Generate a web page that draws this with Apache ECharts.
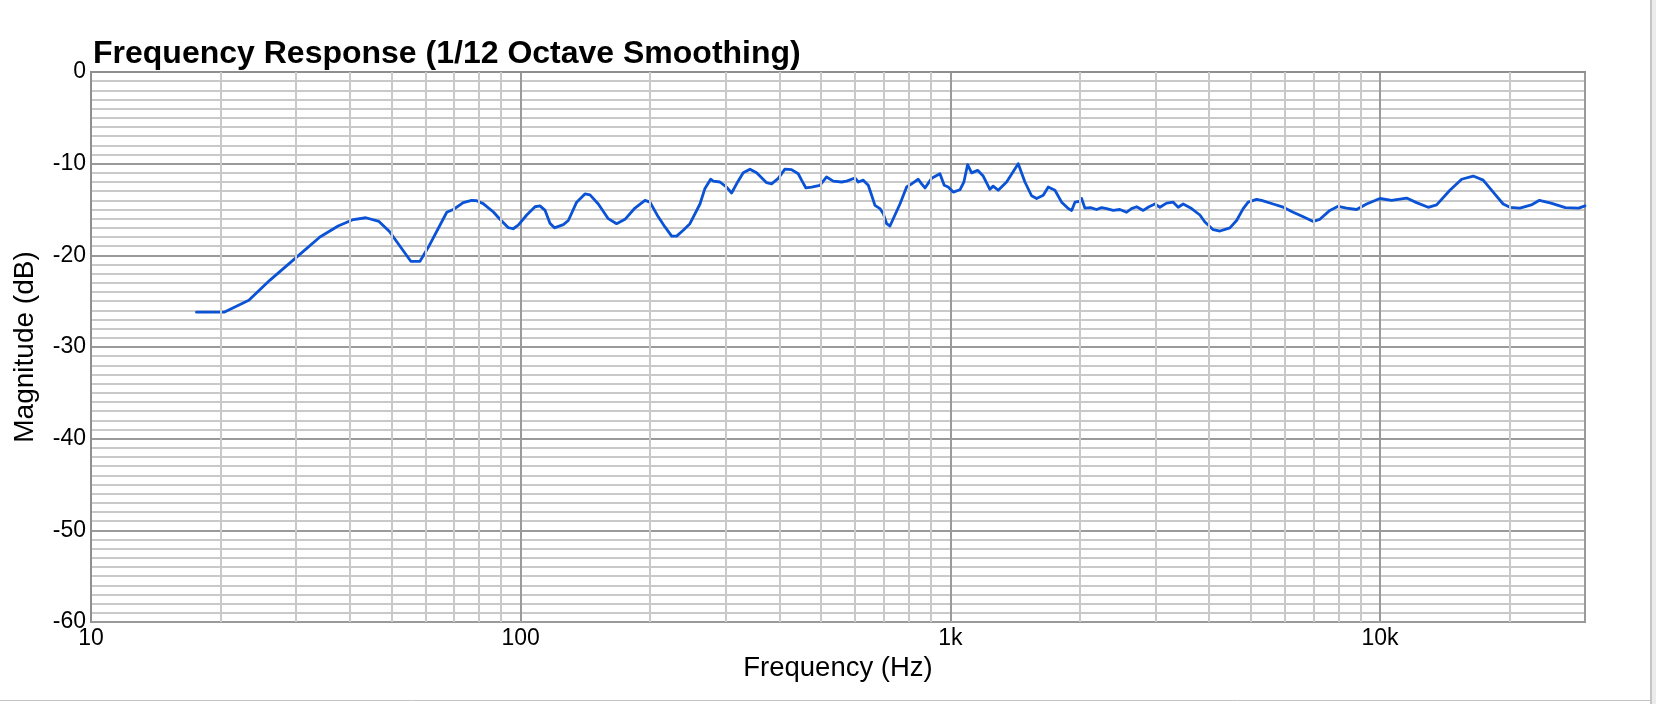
<!DOCTYPE html>
<html>
<head>
<meta charset="utf-8">
<script src="https://cdn.jsdelivr.net/npm/echarts@6/dist/echarts.min.js"></script>
<style>
html,body{margin:0;padding:0;background:#fff;}
#chart{width:1656px;height:704px;}
</style>
</head>
<body>
<div id="chart"></div>
<script>
const titleText = 'Frequency Response (1/12 Octave Smoothing)';
const xName = 'Frequency (Hz)';
const yName = 'Magnitude (dB)';

const freqHz = [
  17.6, 20.4, 23.3, 26.1, 30.1, 34.1, 37.6, 40.8, 43.6, 46.8, 49.5, 55.5, 58.3, 61, 67.3, 69.7, 73.5, 76.9, 79, 81.8, 86.4,
  89.5, 93.6, 96.1, 98.7, 103.3, 108, 110.9, 114, 117, 119.8, 125.7, 129.1, 135, 141.1, 145, 151.6, 159.9, 167.2, 174.9,
  184.5, 194.7, 200, 209, 216.7, 224.6, 230.7, 239, 247.7, 261.4, 268.5, 276.8, 280.8, 290.9, 301.5, 309.7, 318.1, 329.6,
  341.7, 354.1, 373.6, 383.7, 397.7, 412, 427, 442.6, 450.6, 461.2, 475.5, 497.1, 515.2, 534, 558.5, 573.5, 599.7, 610.5,
  627.1, 644.1, 655.9, 667.7, 685.8, 698.1, 710.9, 723.6, 743.2, 763.4, 791.2, 812.6, 842, 857.3, 873, 904.6, 945.8, 967.8,
  988.8, 1015.7, 1052.7, 1075.5, 1097, 1120.8, 1157.3, 1192.7, 1236, 1258, 1292.5, 1351.8, 1438.8, 1491.3, 1545.5, 1588,
  1645.6, 1690, 1751.6, 1815.6, 1881.5, 1916, 1950, 2002, 2020.6, 2056.8, 2120, 2190, 2250, 2311, 2394, 2480, 2572, 2640,
  2714, 2812, 2900, 2994, 3074, 3187, 3302, 3391, 3483, 3643, 3809, 3913, 4091, 4241, 4474, 4637, 4804, 4934, 5160, 5300,
  5641, 5953, 6280, 6627, 6991, 7245, 7643, 7992, 8360, 8821, 9306, 9994, 10640, 11530, 12165, 12947, 13544, 14543, 15489,
  16477, 17384, 18342, 19350, 20062, 21160, 22500, 23500, 25000, 27000, 29000, 30000
];

const magnitudeDb = [
  -26.2, -26.2, -24.9, -22.7, -20.2, -18.0, -16.8, -16.1, -15.9, -16.3, -17.4, -20.65, -20.65, -19.1, -15.3, -15.0, -14.25, -14.0, -14.04, -14.36, -15.27,
  -16.07, -16.98, -17.1, -16.7, -15.6, -14.7, -14.6, -15.1, -16.5, -17.0, -16.65, -16.2, -14.2, -13.3, -13.4, -14.4, -16.0, -16.55, -16.07,
  -14.84, -14.0, -14.2, -15.8, -16.9, -17.9, -17.9, -17.27, -16.55, -14.4, -12.7, -11.7, -11.9, -12.0, -12.55, -13.2, -12.2, -11.0,
  -10.6, -11.0, -12.07, -12.2, -11.6, -10.6, -10.65, -11.1, -11.8, -12.65, -12.55, -12.36, -11.45, -11.9, -12.0, -11.9, -11.56, -12.0,
  -11.8, -12.36, -13.45, -14.55, -14.9, -15.45, -16.55, -16.8, -15.6, -14.4, -12.55, -12.2, -11.7, -12.2, -12.65, -11.6, -11.1, -12.36,
  -12.55, -13.1, -12.85, -12.0, -10.1, -11.0, -10.73, -11.35, -12.8, -12.45, -12.9, -12.0, -10.0, -12.0, -13.5, -13.8,
  -13.45, -12.55, -12.9, -14.2, -14.9, -15.1, -14.2, -14.1, -13.8, -14.85, -14.8, -15.0, -14.8, -14.9, -15.1, -15.0, -15.3, -14.9,
  -14.7, -15.1, -14.7, -14.4, -14.75, -14.3, -14.2, -14.75, -14.4, -14.9, -15.6, -16.36, -17.2, -17.35, -17.0, -16.2, -14.9, -14.2, -13.9, -14.0,
  -14.4, -14.75, -15.3, -15.8, -16.3, -16.07, -15.1, -14.65, -14.85, -15.0, -14.4, -13.8, -14.0, -13.75, -14.25, -14.76, -14.5, -12.9, -11.7,
  -11.35, -11.8, -13.1, -14.4, -14.76, -14.85, -14.5, -14.0, -14.3, -14.8, -14.85, -14.6
];

const xMajorTicks = [10, 100, 1000, 10000];
const xMinorGrid = [20, 30, 40, 50, 60, 70, 80, 90, 200, 300, 400, 500, 600, 700, 800, 900,
  2000, 3000, 4000, 5000, 6000, 7000, 8000, 9000, 20000];

const FONT = '"Liberation Sans", Arial, Helvetica, sans-serif';
const chart = echarts.init(document.getElementById('chart'), null, {renderer: 'canvas'});

const seriesData = freqHz.map((f, i) => [f, magnitudeDb[i]]);

chart.setOption({
  animation: false,
  backgroundColor: '#ffffff',
  title: {
    text: titleText,
    left: 88,
    top: 33,
    textStyle: {fontFamily: FONT, fontSize: 32, fontWeight: 'bold', color: '#000'}
  },
  grid: {left: 91, top: 72, right: 71, bottom: 82, show: true, borderColor: '#8f8f8f', borderWidth: 2, containLabel: false},
  xAxis: {
    type: 'log',
    logBase: 10,
    min: 10,
    max: 30000,
    splitNumber: 4,
    name: xName,
    nameLocation: 'middle',
    nameGap: 31,
    nameTextStyle: {fontFamily: FONT, fontSize: 27.5, color: '#000'},
    axisLine: {show: true, lineStyle: {color: '#8f8f8f', width: 2}},
    axisTick: {show: false},
    axisLabel: {
      fontFamily: FONT, fontSize: 23, color: '#000', margin: 5, showMaxLabel: false,
      formatter: function (v) {
        if (xMajorTicks.indexOf(Math.round(v)) < 0) return '';
        return v >= 1000 ? (v / 1000) + 'k' : String(v);
      }
    },
    splitLine: {show: true, lineStyle: {color: '#9a9a9a', width: 2}}
  },
  yAxis: {
    type: 'value',
    min: -60,
    max: 0,
    interval: 10,
    name: yName,
    nameLocation: 'middle',
    nameGap: 52,
    nameTextStyle: {fontFamily: FONT, fontSize: 28, color: '#000'},
    axisLine: {show: true, lineStyle: {color: '#8f8f8f', width: 2}},
    axisTick: {show: false},
    axisLabel: {fontFamily: FONT, fontSize: 23, color: '#000', margin: 5},
    splitLine: {show: true, lineStyle: {color: '#9a9a9a', width: 2}},
    minorTick: {show: false, splitNumber: 10},
    minorSplitLine: {show: true, lineStyle: {color: '#c9c9c9', width: 2}}
  },
  series: [
    {
      type: 'line',
      z: 1,
      data: [],
      silent: true,
      markLine: {
        silent: true,
        symbol: ['none', 'none'],
        label: {show: false},
        animation: false,
        lineStyle: {color: '#c9c9c9', width: 2, type: 'solid'},
        data: xMinorGrid.map(v => ({xAxis: v}))
      }
    },
    {
      type: 'line',
      z: 3,
      data: seriesData,
      showSymbol: false,
      symbol: 'none',
      smooth: false,
      lineStyle: {color: '#0a52d6', width: 2.8, join: 'round', cap: 'round'},
      itemStyle: {color: '#0a52d6'}
    }
  ],
  graphic: [
    {type: 'rect', shape: {x: 1651, y: 0, width: 5, height: 704}, style: {fill: '#ececec'}, silent: true},
    {type: 'line', shape: {x1: 1651, y1: 0, x2: 1651, y2: 704}, style: {stroke: '#c4c4c4', lineWidth: 2}, silent: true},
    {type: 'line', shape: {x1: 0, y1: 700.5, x2: 1650, y2: 700.5}, style: {stroke: '#c4c4c4', lineWidth: 1}, silent: true}
  ]
});
</script>
</body>
</html>
